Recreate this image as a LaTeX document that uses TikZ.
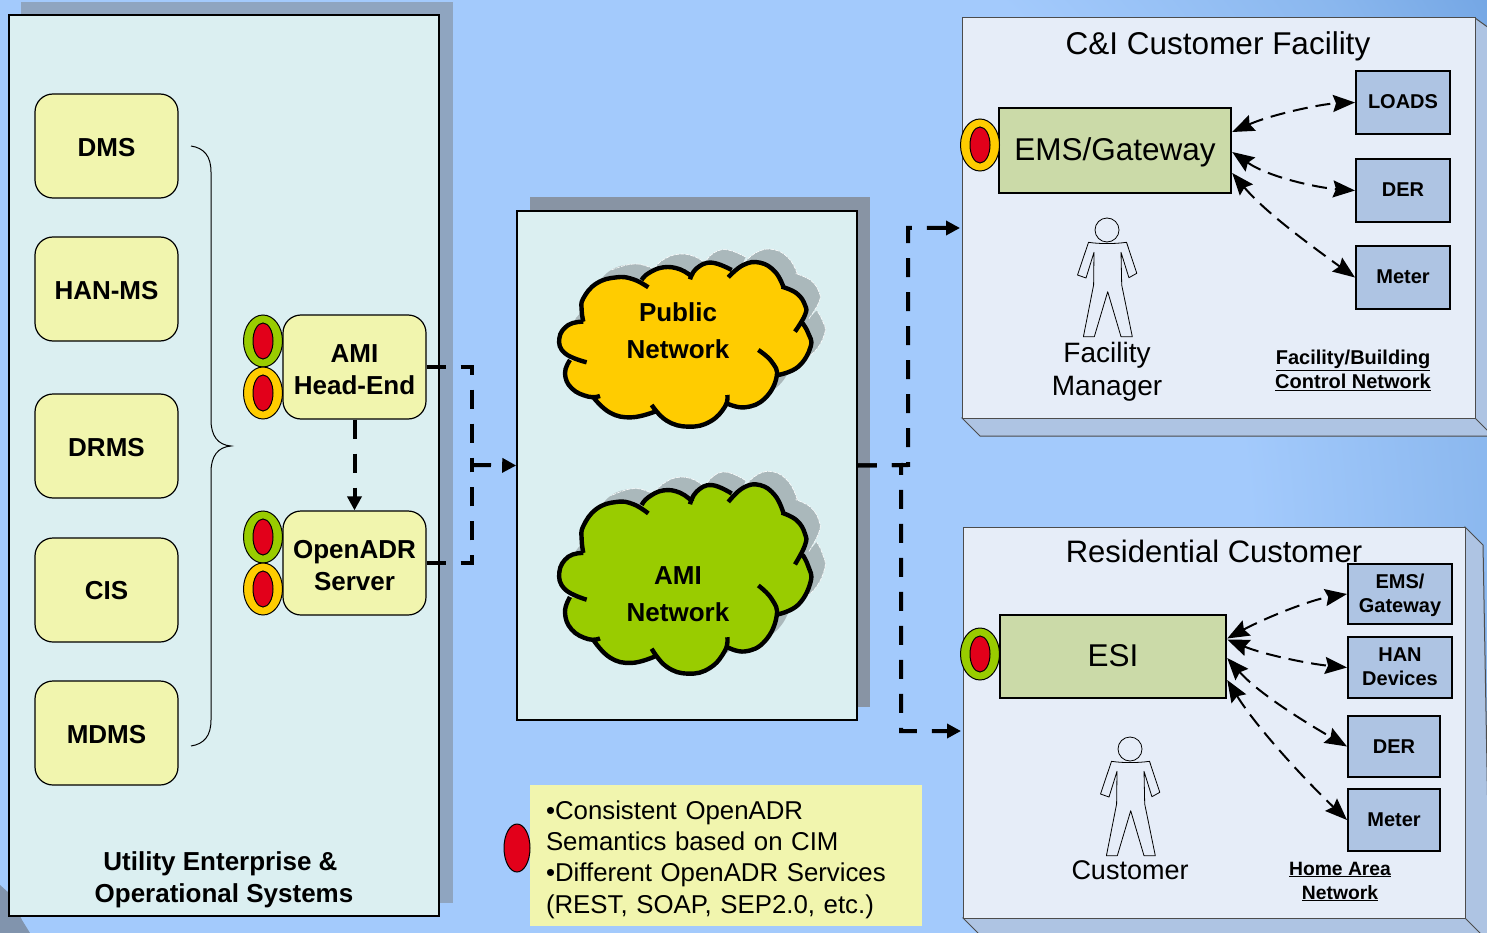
\documentclass[tikz,border=0pt]{standalone}
\usepackage{fontspec}
\setmainfont{Liberation Sans}
\usetikzlibrary{arrows.meta,calc,shapes.geometric}
\definecolor{bgA}{HTML}{A3CAFC}
\definecolor{bgB}{HTML}{8AB7EE}
\definecolor{bgC}{HTML}{6A9FE0}
\definecolor{panelC}{HTML}{DBEFF1}
\definecolor{shadowL}{HTML}{8FA5C0}
\definecolor{shadowC}{HTML}{8894A4}
\definecolor{yellowbox}{HTML}{F1F5AE}
\definecolor{faceC}{HTML}{E6EDF8}
\definecolor{sideC}{HTML}{AEC4E3}
\definecolor{greenbox}{HTML}{CBDAA8}
\definecolor{ovalRed}{HTML}{E2001A}
\definecolor{ovalYellow}{HTML}{FFCC00}
\definecolor{ovalGreen}{HTML}{99CC00}
\definecolor{cloudShadow}{HTML}{AAB8BB}
\pgfdeclareradialshading{bgshade}{\pgfpoint{0bp}{0bp}}{%
  color(0bp)=(bgA); color(15bp)=(bgA); color(20bp)=(bgB); color(24bp)=(bgC); color(50bp)=(bgC)}
\newcommand{\up}[1]{\rule{0pt}{#1pt}}
\newcommand{\dn}[1]{\rule[-#1pt]{0pt}{#1pt}}
\tikzset{
  x=1pt,y=-1pt,
  lobe/.style={smooth,tension=.75},
  sysbox/.style={draw=black,line width=1.2pt,fill=yellowbox,rounded corners=18pt,inner sep=0pt,
    align=center,font=\fontsize{26}{32}\selectfont\bfseries},
  devbox/.style={draw=black,line width=2pt,fill=sideC,inner sep=0pt,align=center,
    font=\fontsize{20}{24}\selectfont\bfseries},
  mainbox/.style={draw=black,line width=2.4pt,fill=greenbox,inner sep=0pt,
    font=\fontsize{31.5}{36}\selectfont},
  panelbox/.style={draw=black,line width=1.6pt,fill=panelC,inner sep=0pt},
  facebox/.style={draw=black!70,line width=1pt,fill=faceC,inner sep=0pt},
  label31/.style={inner sep=0pt,font=\fontsize{31.5}{36}\selectfont},
  label28/.style={inner sep=0pt,align=center,font=\fontsize{28}{33}\selectfont},
  boldlabel/.style={inner sep=0pt,align=center,font=\fontsize{26}{32}\selectfont\bfseries},
  netlabel/.style={inner sep=0pt,align=center,font=\fontsize{26}{37}\selectfont\bfseries},
  linklabel/.style={inner sep=0pt,align=center,font=\fontsize{20}{24}\selectfont\bfseries},
  bigdash/.style={line width=4pt,dash pattern=on 19pt off 15pt},
  bigtip/.style={-{Triangle[length=14pt,width=14pt]}},
  lan/.style={line width=2pt,dash pattern=on 15pt off 8pt,
    {Stealth[length=22pt,width=17pt,inset=3pt]}-{Stealth[length=22pt,width=17pt,inset=3pt]}},
  ovalouter/.style={draw=black,line width=1pt,shape=ellipse,minimum width=39pt,minimum height=52pt,inner sep=0pt},
  ovalinner/.style={draw=black,line width=1pt,fill=ovalRed,shape=ellipse,minimum width=20pt,minimum height=36pt,inner sep=0pt},
  personline/.style={draw=black,line width=.8pt,line join=round},
}
\newcommand{\cloudpath}{plot[lobe] coordinates {(445,292) (400,268) (350,262) (290,280) (250,325) (245,360) (250,395)}
 -- plot[lobe] coordinates {(250,395) (205,405) (178,445) (195,490) (260,517)}
 -- plot[lobe] coordinates {(210,510) (195,550) (215,595) (265,620) (300,618)}
 -- plot[lobe] coordinates {(280,622) (330,668) (395,682) (465,665)}
 -- plot[lobe] coordinates {(455,645) (500,692) (565,710) (630,695) (675,650) (682,615)}
 -- plot[lobe] coordinates {(680,640) (735,652) (795,625) (830,560) (815,515) (775,480)}
 -- plot[lobe] coordinates {(835,555) (895,530) (932,470) (925,430) (908,400)}
 -- plot[lobe] coordinates {(885,425) (915,375) (915,345) (890,310) (845,290)}
 -- plot[lobe] coordinates {(850,290) (825,245) (780,218) (730,225) (685,262)}
 -- plot[lobe] coordinates {(695,240) (635,218) (590,235) (570,268)}
 -- plot[lobe] coordinates {(578,262) (540,238) (490,232) (445,250) (425,270)} -- cycle}
\newcommand{\cloudstroke}{plot[lobe] coordinates {(445,292) (400,268) (350,262) (290,280) (250,325) (245,360) (250,395)}
 plot[lobe] coordinates {(250,395) (205,405) (178,445) (195,490) (260,517)}
 plot[lobe] coordinates {(210,510) (195,550) (215,595) (265,620) (300,618)}
 plot[lobe] coordinates {(280,622) (330,668) (395,682) (465,665)}
 plot[lobe] coordinates {(455,645) (500,692) (565,710) (630,695) (675,650) (682,615)}
 plot[lobe] coordinates {(680,640) (735,652) (795,625) (830,560) (815,515) (775,480)}
 plot[lobe] coordinates {(835,555) (895,530) (932,470) (925,430) (908,400)}
 plot[lobe] coordinates {(885,425) (915,375) (915,345) (890,310) (845,290)}
 plot[lobe] coordinates {(850,290) (825,245) (780,218) (730,225) (685,262)}
 plot[lobe] coordinates {(695,240) (635,218) (590,235) (570,268)}
 plot[lobe] coordinates {(578,262) (540,238) (490,232) (445,250) (425,270)}}
\newcommand{\cloudrim}{plot[lobe] coordinates {(835,555) (895,530) (932,470) (925,430) (908,400)}
 plot[lobe] coordinates {(885,425) (915,375) (915,345) (890,310) (845,290)}
 plot[lobe] coordinates {(850,290) (825,245) (780,218) (730,225) (685,262)}
 plot[lobe] coordinates {(695,240) (635,218) (590,235) (570,268)}
 plot[lobe] coordinates {(578,262) (540,238) (490,232) (445,250) (425,270)}
 plot[lobe] coordinates {(445,292) (400,268) (350,262) (290,280)}}
\newcommand{\cloudat}[3]{%
  \begin{scope}[shift={(514,#1-13)},x=.3333pt,y=#3pt,yscale=-1]
    \fill[cloudShadow] \cloudpath;
    \draw[white,line width=.6pt,dash pattern=on 4pt off 1pt] \cloudrim;
  \end{scope}
  \begin{scope}[shift={(500,#1)},x=.3333pt,y=#3pt,yscale=-1]
    \fill[#2] \cloudpath;
    \draw[black,line width=4.4pt] \cloudstroke;
  \end{scope}}
\newcommand{\personat}[1]{%
  \begin{scope}[shift={(#1)}]
    \draw[personline] (0,0) circle (12);
    \draw[personline] (-18.5,12.3) .. controls (-8,14) and (8,14) .. (19.5,12.3)
      -- (29.8,43.3) -- (21.9,47.7) -- (14,22.3) -- (14.7,55) -- (25.3,106.7) -- (14,106.7)
      -- (.7,61.7) -- (-12.7,106.7) -- (-23.6,106.7) -- (-13.4,55) -- (-13,22.3) -- (-21,48)
      -- (-29.5,45) -- cycle;
  \end{scope}}
\begin{document}
\begin{tikzpicture}
\clip (0,0) rectangle (1487,933);
% background
\shade[shading=bgshade] (500,560) circle (1250);
\fill[shadowL!90!black] (0,885) -- (9,893) -- (22,920) -- (30,933) -- (0,933) -- cycle;
% left panel
\fill[shadowL] (21,2) rectangle (453,903);
\node[panelbox,minimum width=430pt,minimum height=901pt] (left) at (224,465.5) {};
\foreach \nm/\txt/\yy in {dms/DMS/146,han/HAN-MS/289,drms/DRMS/446,mdms/MDMS/733}{
  \node[sysbox,minimum width=143pt,minimum height=104pt] (\nm) at (106.5,\yy) {\up{21}\txt};
}
\node[sysbox,minimum width=143pt,minimum height=104pt] (cis) at (106.5,590) {\up{19}CIS};
\draw[black,line width=1pt] (191,146) .. controls (204,148) and (211,156) .. (211,172)
  -- (211,420) .. controls (211,436) and (218,445) .. (231,446)
  .. controls (218,447) and (211,456) .. (211,472)
  -- (211,720) .. controls (211,736) and (204,744) .. (191,746);
\node[sysbox,minimum width=143pt,minimum height=104pt] (ami) at (354.5,367) {\up{23}AMI\\Head-End};
\node[sysbox,minimum width=143pt,minimum height=104pt] (adr) at (354.5,563) {\up{23.5}OpenADR\\Server};
\foreach \nm/\xx/\yy/\cc in {a/263/341/ovalGreen,b/263/393/ovalYellow,c/263/537/ovalGreen,d/263/589/ovalYellow}{
  \node[ovalouter,fill=\cc] (oo\nm) at (\xx,\yy) {};
  \node[ovalinner] (oi\nm) at (\xx,\yy) {};
}
\node[boldlabel] (util) at (224,880) {Utility Enterprise \&\hspace*{7pt}\\Operational Systems};
% centre panel
\fill[shadowC] (530,197) rectangle (870,707);
\node[panelbox,minimum width=340pt,minimum height=509pt] (mid) at (687,465.5) {};
\cloudat{190}{ovalYellow}{.3333}
\cloudat{401.5}{ovalGreen}{.3833}
\node[netlabel] (pub) at (678,331) {Public\\Network};
\node[netlabel] (aminet) at (678,594) {AMI\\Network};
% legend
\node[fill=yellowbox,inner sep=0pt,minimum width=392pt,minimum height=141pt,align=left,
  font=\fontsize{25.8}{31.4}\selectfont,text width=360pt] (legend) at (726,855.5)
  {\up{26.7}•Consistent OpenADR\\Semantics based on CIM\\•Different OpenADR Services\\(REST, SOAP, SEP2.0, etc.)};
\node[draw=black,line width=1pt,fill=ovalRed,shape=ellipse,minimum width=26pt,minimum height=48pt,inner sep=0pt] (legoval) at (517,848) {};
% C&I customer facility
\fill[sideC,draw=black!70,line width=1pt] (962,418) -- (980,436) -- (1500,436) -- (1500,36) -- (1475,18) -- (1475,418) -- cycle;
\node[facebox,minimum width=513pt,minimum height=400pt] (fac) at (1218.5,218) {};
\draw[black!70,line width=1pt] (1475,418) -- (1493,436);
\node[label31] (factitle) at (1218,46) {C\&I Customer Facility};
\node[mainbox,minimum width=232pt,minimum height=85pt] (ems) at (1115,150.5) {\up{27}EMS/Gateway};
\node[ovalouter,fill=ovalYellow] (ooe) at (980,145) {};
\node[ovalinner] (oie) at (980,145) {};
\node[devbox,minimum width=94pt,minimum height=63pt] (loads) at (1403,102.5) {LOADS\dn{2}};
\node[devbox,minimum width=94pt,minimum height=63pt] (der) at (1403,190.5) {DER\dn{2}};
\node[devbox,minimum width=94pt,minimum height=63pt] (meter) at (1403,277.5) {Meter\dn{2}};
\draw[lan] ([yshift=18.5pt]ems.east) .. controls (1270,115) and (1320,104) .. (loads.west);
\draw[lan] ([yshift=-1.5pt]ems.east) .. controls (1270,178) and (1320,188) .. (der.west);
\draw[lan] ([yshift=-22.5pt]ems.east) .. controls (1265,212) and (1310,245) .. (meter.west);
\personat{1107,230}
\node[label28] (fm) at (1107,371.5) {Facility\\Manager};
\node[linklabel] (fbcn) at (1353,370) {\underline{Facility/Building}\\\underline{Control Network}};
% Residential customer
\fill[sideC,draw=black!70,line width=1pt] (963,918) -- (981,936) -- (1490,936) -- (1483,545) -- (1465,527) -- (1465,918) -- cycle;
\node[facebox,minimum width=502pt,minimum height=391pt] (res) at (1214,722.5) {};
\draw[black!70,line width=1pt] (1465,918) -- (1483,936);
\node[label31,font=\fontsize{31}{36}\selectfont] (restitle) at (1214,551) {Residential Customer};
\node[mainbox,minimum width=226pt,minimum height=83pt] (esi) at (1113,656.5) {ESI\dn{2}};
\node[ovalouter,fill=ovalGreen] (oof) at (980,654) {};
\node[ovalinner] (oif) at (980,654) {};
\node[devbox,minimum width=104pt,minimum height=60pt] (gw) at (1400,594) {\up{17}EMS/\\Gateway};
\node[devbox,minimum width=104pt,minimum height=61pt] (hand) at (1400,667.5) {HAN\\Devices\dn{2}};
\node[devbox,minimum width=92pt,minimum height=61pt] (rder) at (1394,746.5) {DER};
\node[devbox,minimum width=92pt,minimum height=62pt] (rmeter) at (1394,820) {Meter};
\draw[lan] ([yshift=18pt]esi.east) .. controls (1265,618) and (1310,600) .. (gw.west);
\draw[lan] ([yshift=17pt]esi.east) .. controls (1265,655) and (1310,664) .. (hand.west);
\draw[lan] ([yshift=-1.5pt]esi.east) .. controls (1260,695) and (1310,725) .. (rder.west);
\draw[lan] ([yshift=-23.5pt]esi.east) .. controls (1255,725) and (1300,775) .. (rmeter.west);
\personat{1130,749}
\node[label28,font=\fontsize{27}{33}\selectfont] (cust) at (1130,870) {Customer};
\node[linklabel,font=\fontsize{19.3}{24}\selectfont\bfseries] (han2) at (1340,881.5) {\underline{Home Area}\\\underline{Network}};
% backbone connectors
\coordinate (jl) at (472,465);
\coordinate (jup) at (908,465);
\coordinate (jdn) at (901,465);
\coordinate (facin) at (960,228);
\coordinate (resin) at (961,731);
\draw[bigdash] (ami.east) -| (jl);
\draw[bigdash] (adr.east) -| (jl);
\draw[bigdash,bigtip] (jl) -- (mid.west);
\draw[bigdash,bigtip] (ami.south) -- (adr.north);
\draw[bigdash,bigtip] (mid.east) -- (jup) |- (facin);
\draw[bigdash,bigtip] (mid.east) -- (jdn) |- (resin);
\end{tikzpicture}
\end{document}
